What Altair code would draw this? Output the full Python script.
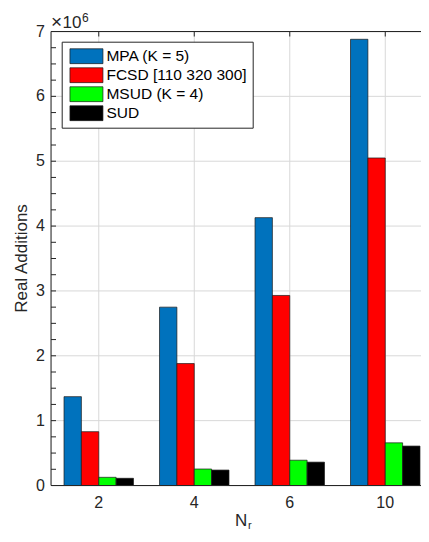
import altair as alt
import pandas as pd

# ---- data (values in units of 10^6) ----
nr_labels = ["2", "4", "6", "10"]
series = ["MPA (K = 5)", "FCSD [110 320 300]", "MSUD (K = 4)", "SUD"]
colors = ["#0072BD", "#FF0000", "#00FF00", "#000000"]
mpa = [1.37, 2.75, 4.13, 6.88]
fcsd = [0.83, 1.88, 2.93, 5.05]
msud = [0.126, 0.254, 0.39, 0.658]
sud = [0.111, 0.238, 0.36, 0.608]
y_ticks = [0, 1, 2, 3, 4, 5, 6, 7]

values = [mpa, fcsd, msud, sud]
n_series = len(series)
group_w = min(0.8, n_series / (n_series + 1.5))
bw = group_w / n_series

rows = []
for si, name in enumerate(series):
    for gi, lab in enumerate(nr_labels):
        g = gi + 1
        x0 = g - group_w / 2 + si * bw
        rows.append({"Nr": lab, "g": g, "series": name, "x0": x0, "x1": x0 + bw,
                     "value": values[si][gi]})
df = pd.DataFrame(rows)

W, H = 370, 454
PXU = 95.5
FONT = "Liberation Sans"
TXT = "#262626"
GRID = "#d8d8d8"

xscale = alt.Scale(domain=[0.5, 0.5 + W / PXU], nice=False, zero=False)
yscale = alt.Scale(domain=[0, 7], nice=False)

gx = pd.DataFrame({"x0": [1, 2, 3, 4], "lab": nr_labels})
gy = pd.DataFrame({"value": y_ticks, "lab": [str(v) for v in y_ticks]})
minor = pd.DataFrame({"value": [i * 0.25 for i in range(29)]})
one = pd.DataFrame({"a": [0]})

X = lambda f="x0:Q": alt.X(f, scale=xscale, axis=None)
Y = lambda f="value:Q": alt.Y(f, scale=yscale, axis=None)

grid_v = alt.Chart(gx).mark_rule(color=GRID, strokeWidth=1).encode(
    x=X(), y=alt.value(0), y2=alt.value(H))
grid_h = alt.Chart(gy).mark_rule(color=GRID, strokeWidth=1).encode(
    y=Y(), x=alt.value(0), x2=alt.value(W))

bars = alt.Chart(df).mark_bar(stroke="#1a1a1a", strokeWidth=0.7).encode(
    x=X(),
    x2="x1:Q",
    y=Y(),
    y2=alt.datum(0),
    color=alt.Color("series:N", scale=alt.Scale(domain=series, range=colors),
                    legend=alt.Legend(title=None, orient="none", legendX=10.7, legendY=10.2,
                                      strokeColor=TXT, fillColor="white", padding=5.5,
                                      symbolType="M-2,-0.9L2,-0.9L2,0.9L-2,0.9Z",
                                      symbolSize=272.25, symbolOffset=10.25,
                                      symbolStrokeColor="#1a1a1a", symbolStrokeWidth=0.7,
                                      symbolOpacity=1,
                                      labelFont=FONT, labelFontSize=15.5, labelColor="#000000",
                                      labelOffset=11, rowPadding=1)),
)

yticks = alt.Chart(minor).mark_rule(color=TXT, strokeWidth=1).encode(
    y=Y(), x=alt.value(0), x2=alt.value(5))
top_ticks = alt.Chart(gx).mark_rule(color=TXT, strokeWidth=1).encode(
    x=X(), y=alt.value(0), y2=alt.value(5))

top_border = alt.Chart(one).mark_rule(color=TXT, strokeWidth=1.2).encode(
    x=alt.value(0), x2=alt.value(W), y=alt.value(0))
left_border = alt.Chart(one).mark_rule(color=TXT, strokeWidth=1).encode(
    x=alt.value(0), y=alt.value(0), y2=alt.value(H))
bottom_border = alt.Chart(one).mark_rule(color=TXT, strokeWidth=1).encode(
    x=alt.value(0), x2=alt.value(W), y=alt.value(H))

ylabels = alt.Chart(gy).mark_text(align="right", baseline="middle", fontSize=16, font=FONT,
                                  color=TXT).encode(y=Y(), x=alt.value(-6), text="lab:N")
xlabels = alt.Chart(gx).mark_text(align="center", baseline="top", fontSize=16, font=FONT,
                                  color=TXT).encode(x=X(), y=alt.value(H + 9), text="lab:N")
ytitle = alt.Chart(one).mark_text(text="Real Additions", angle=270, align="center",
                                  baseline="middle", fontSize=17, font=FONT, color=TXT).encode(
    x=alt.value(-29), y=alt.value(H / 2))

exp_x = alt.Chart(one).mark_text(
    text="×", align="left", baseline="alphabetic", fontSize=19, font=FONT, color=TXT
).encode(x=alt.value(0), y=alt.value(-3.5))
exp_10 = alt.Chart(one).mark_text(
    text="10", align="left", baseline="alphabetic", fontSize=17, font=FONT, color=TXT
).encode(x=alt.value(11.5), y=alt.value(-3.5))
exp_sup = alt.Chart(one).mark_text(
    text="6", align="left", baseline="alphabetic", fontSize=12, font=FONT, color=TXT
).encode(x=alt.value(31), y=alt.value(-9.5))

xt_n = alt.Chart(one).mark_text(
    text="N", align="left", baseline="alphabetic", fontSize=17, font=FONT, color=TXT
).encode(x=alt.value(184), y=alt.value(H + 40))
xt_r = alt.Chart(one).mark_text(
    text="r", align="left", baseline="alphabetic", fontSize=11, font=FONT, color=TXT
).encode(x=alt.value(197), y=alt.value(H + 43))

chart = alt.layer(grid_v, grid_h, bars, yticks, top_ticks, top_border, left_border,
                  bottom_border, ylabels, xlabels, ytitle,
                  exp_x, exp_10, exp_sup, xt_n, xt_r).properties(
    width=W, height=H,
    autosize=alt.AutoSizeParams(type="none"),
    padding={"left": 43, "top": 23.5, "right": 0, "bottom": 43.5},
).configure_view(stroke=None).configure(background="white")

chart.save("out.html", embed_options={"renderer": "svg", "actions": False})
